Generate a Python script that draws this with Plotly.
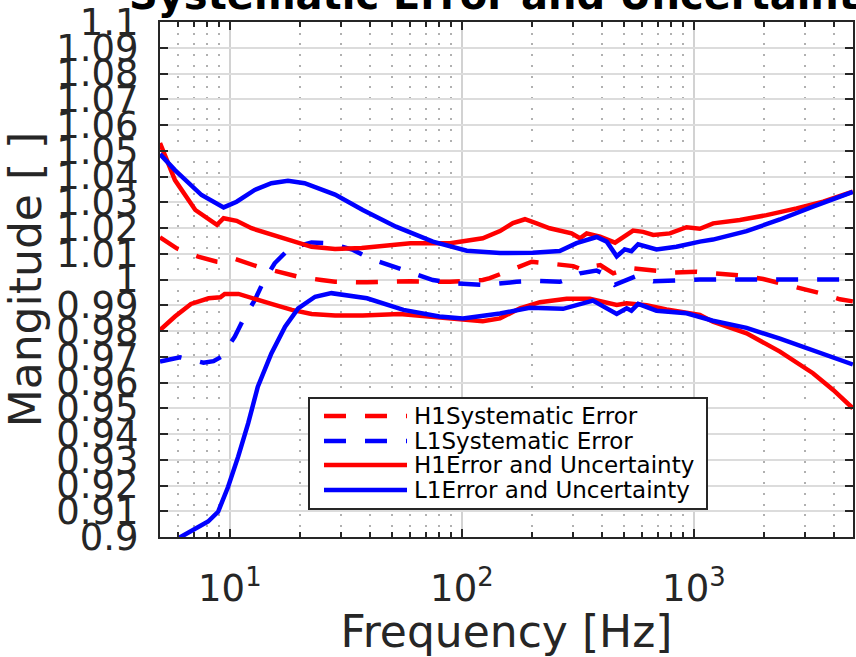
import numpy as np
import plotly.graph_objects as go

# ---------------- data ----------------
h1_sys_f = [5, 5.9, 7.3, 8.8, 9.5, 10.5, 13.2, 16.4, 19.7, 24.8, 28.4, 39, 60, 89, 123, 132, 146, 161,
            200, 239, 302, 334, 356, 395, 449, 529, 668, 815, 1027, 1211, 1578, 1990, 2772, 3607, 4258, 4842]
h1_sys_v = [1.0164, 1.0121, 1.0089, 1.0069, 1.0066, 1.0080, 1.0050, 1.0030, 1.0011, 0.9998, 0.9991, 0.9989,
            0.9993, 0.9991, 0.9998, 1.0005, 1.0020, 1.0037, 1.0069, 1.0062, 1.0052, 1.0037, 1.0050, 1.0056,
            1.0024, 1.0045, 1.0035, 1.0027, 1.0030, 1.0026, 1.0016, 1.0002, 0.9970, 0.9944, 0.9923, 0.9915]

l1_sys_f = [5, 6.1, 7.7, 8.5, 9.2, 10.5, 11.4, 12.8, 13.9, 15.6, 18.1, 22.5, 26.9, 34, 40, 51, 60, 75, 92,
            124, 141, 172, 213, 264, 292, 323, 380, 421, 456, 560, 668, 841, 1061, 4842]
l1_sys_v = [0.9681, 0.9698, 0.9677, 0.9683, 0.9700, 0.9778, 0.9843, 0.9920, 0.9988, 1.0063, 1.0121, 1.0144,
            1.0141, 1.0115, 1.0082, 1.0050, 1.0024, 0.9998, 0.9985, 0.9979, 0.9983, 0.9991, 0.9995, 0.9991,
            1.0005, 1.0024, 1.0035, 1.0017, 0.9979, 1.0012, 0.9993, 0.9998, 1.0000, 1.0000]

h1_up_f = [5, 5.8, 7.1, 8.8, 9.4, 10.7, 12.4, 14.6, 17.8, 22.5, 28.4, 37, 60, 89, 123, 146, 166, 187, 210,
           239, 297, 323, 345, 394, 457, 496, 547, 604, 668, 788, 930, 1061, 1211, 1578, 2056, 2771, 3607, 4842]
h1_up_v = [1.0530, 1.0386, 1.0270, 1.0212, 1.0238, 1.0228, 1.0199, 1.0179, 1.0153, 1.0127, 1.0118, 1.0122,
           1.0141, 1.0141, 1.0160, 1.0188, 1.0219, 1.0234, 1.0218, 1.0199, 1.0179, 1.0160, 1.0179, 1.0166,
           1.0143, 1.0166, 1.0190, 1.0185, 1.0173, 1.0179, 1.0203, 1.0197, 1.0218, 1.0231, 1.0250, 1.0276,
           1.0302, 1.0341]

h1_lo_f = [5, 5.8, 6.8, 8.1, 9.1, 9.5, 10.9, 12.8, 15.1, 18.5, 22.5, 28.4, 37.4, 54, 75, 105, 123, 146, 178,
           217, 283, 356, 421, 465, 513, 567, 625, 762, 930, 1061, 1208, 1687, 2349, 3260, 3985, 4842]
h1_lo_v = [0.9804, 0.9856, 0.9905, 0.9927, 0.9931, 0.9944, 0.9944, 0.9923, 0.9905, 0.9882, 0.9866, 0.9860,
           0.9860, 0.9866, 0.9856, 0.9843, 0.9838, 0.9849, 0.9888, 0.9912, 0.9925, 0.9925, 0.9912, 0.9901,
           0.9908, 0.9903, 0.9900, 0.9884, 0.9871, 0.9862, 0.9836, 0.9791, 0.9720, 0.9636, 0.9571, 0.9500]

l1_up_f = [5, 5.8, 7.55, 9.4, 10.7, 12.8, 15.1, 17.8, 21, 28.4, 37.4, 52, 75, 105, 146, 202, 264, 312, 381,
           421, 465, 504, 538, 575, 690, 841, 1061, 1208, 1687, 2349, 3260, 4842]
l1_up_v = [1.0487, 1.0425, 1.0328, 1.0280, 1.0302, 1.0348, 1.0374, 1.0383, 1.0374, 1.0330, 1.0270, 1.0205,
           1.0147, 1.0112, 1.0103, 1.0104, 1.0111, 1.0141, 1.0165, 1.0147, 1.0090, 1.0117, 1.0110, 1.0137,
           1.0117, 1.0127, 1.0147, 1.0155, 1.0188, 1.0233, 1.0283, 1.0340]

l1_lo_f = [6.0, 7.07, 8.06, 8.9, 9.83, 10.86, 12.0, 13.2, 15.1, 17.3, 19.7, 23.3, 27.4, 39, 56, 80, 101, 146,
           196, 273, 367, 465, 513, 538, 575, 690, 930, 1208, 1687, 2349, 3260, 4842]
l1_lo_v = [0.8995, 0.9030, 0.9060, 0.9098, 0.9195, 0.9312, 0.9442, 0.9584, 0.9713, 0.9817, 0.9888, 0.9933,
           0.9947, 0.9927, 0.9882, 0.9856, 0.9849, 0.9868, 0.9890, 0.9886, 0.9918, 0.9866, 0.9888, 0.9879,
           0.9905, 0.9879, 0.9869, 0.9840, 0.9812, 0.9770, 0.9726, 0.9670]

series_names = ["H1Systematic Error", "L1Systematic Error",
                "H1Error and Uncertainty", "L1Error and Uncertainty"]

y_tick_vals = [round(0.9 + 0.01 * i, 2) for i in range(21)]
y_tick_text = ["0.9", "0.91", "0.92", "0.93", "0.94", "0.95", "0.96", "0.97", "0.98", "0.99", "1",
               "1.01", "1.02", "1.03", "1.04", "1.05", "1.06", "1.07", "1.08", "1.09", "1.1"]
x_tick_vals = [10, 100, 1000]
x_tick_text = ["10<sup>1</sup>", "10<sup>2</sup>", "10<sup>3</sup>"]
x_minor_vals = [6, 7, 8, 9, 20, 30, 40, 50, 60, 70, 80, 90,
                200, 300, 400, 500, 600, 700, 800, 900, 2000, 3000, 4000]

# ---------------- figure ----------------
RED = "#ff0000"
BLUE = "#0000ff"
DASH = "22px,19px"
LW = 4.5
FONT = "DejaVu Sans"
INK = "#262626"
W, H = 856, 657
ML, MR, MT, MB = 160, 3, 22, 120
PW, PH = W - ML - MR, H - MT - MB

fig = go.Figure()
fig.add_trace(go.Scatter(x=h1_sys_f, y=h1_sys_v, mode="lines", name=series_names[0],
                         line=dict(color=RED, width=LW, dash=DASH), showlegend=False))
fig.add_trace(go.Scatter(x=l1_sys_f, y=l1_sys_v, mode="lines", name=series_names[1],
                         line=dict(color=BLUE, width=LW, dash=DASH), showlegend=False))
fig.add_trace(go.Scatter(x=h1_up_f, y=h1_up_v, mode="lines", name=series_names[2],
                         line=dict(color=RED, width=LW), showlegend=False))
fig.add_trace(go.Scatter(x=h1_lo_f, y=h1_lo_v, mode="lines", name=series_names[2],
                         line=dict(color=RED, width=LW), showlegend=False))
fig.add_trace(go.Scatter(x=l1_up_f, y=l1_up_v, mode="lines", name=series_names[3],
                         line=dict(color=BLUE, width=LW), showlegend=False))
fig.add_trace(go.Scatter(x=l1_lo_f, y=l1_lo_v, mode="lines", name=series_names[3],
                         line=dict(color=BLUE, width=LW), showlegend=False))

# ---- legend box (drawn in paper coordinates) ----
def px(xp):
    return (xp - ML) / PW

def py(yp):
    return (MT + PH - yp) / PH

shapes = [dict(type="rect", xref="paper", yref="paper",
               x0=px(309), x1=px(707), y0=py(509), y1=py(398),
               line=dict(color=INK, width=2), fillcolor="white", layer="above")]
legend_rows = [416, 441, 465, 490]
legend_styles = [(RED, DASH), (BLUE, DASH), (RED, "solid"), (BLUE, "solid")]
annotations = []
for yr, (col, dsh), name in zip(legend_rows, legend_styles, series_names):
    shapes.append(dict(type="line", xref="paper", yref="paper",
                       x0=px(324), x1=px(407), y0=py(yr), y1=py(yr),
                       line=dict(color=col, width=LW, dash=dsh), layer="above"))
    annotations.append(dict(text=name, xref="paper", yref="paper", x=px(412), y=py(yr),
                            xanchor="left", yanchor="middle", showarrow=False,
                            font=dict(family=FONT, size=23, color="black")))

fig.update_layout(
    width=W, height=H,
    margin=dict(l=ML, r=MR, t=MT, b=MB, autoexpand=False),
    paper_bgcolor="white", plot_bgcolor="white",
    showlegend=False,
    title=dict(text="<b>Systematic Error and Uncertainty</b>", x=0.5, xref="paper",
               xanchor="center", y=1 - 9 / H, yref="container", yanchor="bottom",
               font=dict(family=FONT, size=40, color="black")),
    shapes=shapes,
    annotations=annotations,
)

fig.update_xaxes(
    type="log", range=[np.log10(5), np.log10(4850)], automargin=False,
    tickmode="array", tickvals=x_tick_vals, ticktext=x_tick_text,
    ticks="inside", ticklen=8, tickwidth=2, tickcolor=INK,
    showline=True, linecolor=INK, linewidth=2, mirror="ticks",
    showgrid=True, gridcolor="#d2d2d2", gridwidth=2,
    zeroline=False,
    tickfont=dict(family=FONT, size=37, color=INK),
    ticklabelstandoff=18,
    title=dict(text="Frequency [Hz]", font=dict(family=FONT, size=44, color=INK), standoff=4),
    minor=dict(tickmode="array", tickvals=x_minor_vals, ticks="inside", ticklen=5,
               tickwidth=1.5, tickcolor=INK, showgrid=True, gridcolor="#b0b0b0",
               gridwidth=1.5, griddash="2px,8.7px"),
)
fig.update_yaxes(
    range=[0.9, 1.1], automargin=False,
    tickmode="array", tickvals=y_tick_vals, ticktext=y_tick_text,
    ticks="inside", ticklen=8, tickwidth=2, tickcolor=INK,
    showline=True, linecolor=INK, linewidth=2, mirror="ticks",
    showgrid=True, gridcolor="#dcdcdc", gridwidth=2,
    zeroline=False,
    tickfont=dict(family=FONT, size=37, color=INK),
    ticklabelstandoff=12,
    title=dict(text="Mangitude [ ]", font=dict(family=FONT, size=44, color=INK), standoff=10),
)

fig.write_html(
    "out.html",
    config={"displayModeBar": False},
    post_script="document.body.style.margin='0px';document.body.style.overflow='hidden';",
)
